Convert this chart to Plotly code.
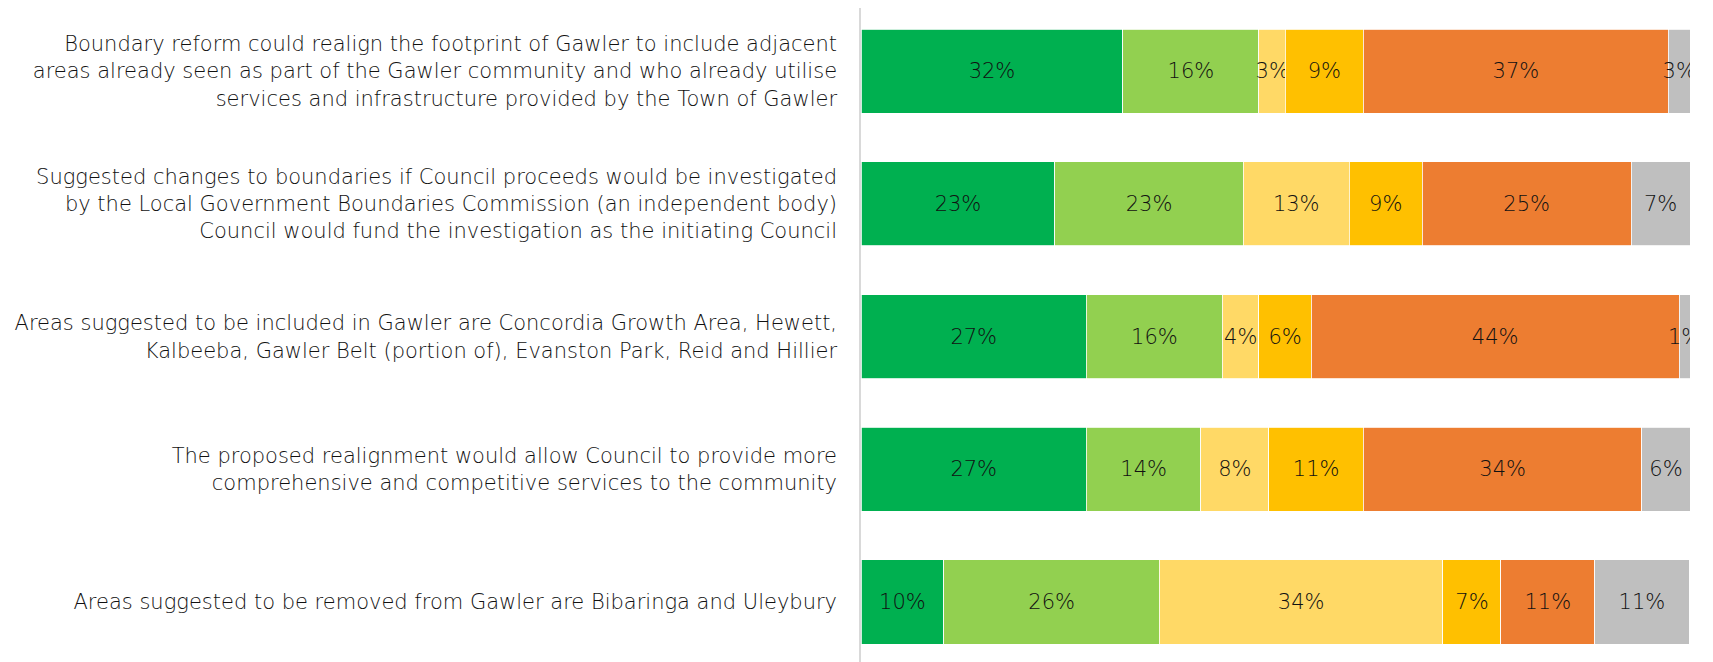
import plotly.graph_objects as go

# statements, top to bottom
STATEMENTS = [
    "Boundary reform could realign the footprint of Gawler to include adjacent<br>"
    "areas already seen as part of the Gawler community and who already utilise<br>"
    "services and infrastructure provided by the Town of Gawler",
    "Suggested changes to boundaries if Council proceeds would be investigated<br>"
    "by the Local Government Boundaries Commission (an independent body)<br>"
    "Council would fund the investigation as the initiating Council",
    "Areas suggested to be included in Gawler are Concordia Growth Area, Hewett,<br>"
    "Kalbeeba, Gawler Belt (portion of), Evanston Park, Reid and Hillier",
    "The proposed realignment would allow Council to provide more<br>"
    "comprehensive and competitive services to the community",
    "Areas suggested to be removed from Gawler are Bibaringa and Uleybury",
]

# response shares (%) per statement
RESP_1 = [31.6, 23.4, 27.2, 27.2, 10.0]
RESP_2 = [16.4, 22.7, 16.4, 13.8, 26.0]
RESP_3 = [3.2, 12.8, 4.4, 8.2, 34.2]
RESP_4 = [9.4, 8.8, 6.3, 11.4, 7.0]
RESP_5 = [36.8, 25.2, 44.4, 33.6, 11.3]
RESP_6 = [2.6, 7.1, 1.3, 5.8, 11.4]

SERIES = [RESP_1, RESP_2, RESP_3, RESP_4, RESP_5, RESP_6]
COLORS = ["#00B050", "#92D050", "#FFD966", "#FFC000", "#ED7D31", "#BFBFBF"]

FONT = "DejaVu Sans"
WEIGHT = 200
TXT = "#111111"

fig = go.Figure()
for vals, col in zip(SERIES, COLORS):
    fig.add_trace(go.Bar(
        x=vals,
        y=STATEMENTS,
        orientation="h",
        marker=dict(color=col, line=dict(color="white", width=0.8)),
        texttemplate="%{x:.0f}%",
        textposition="inside",
        insidetextanchor="middle",
        textangle=0,
        constraintext="none",
        textfont=dict(family=FONT, size=21, color=TXT, weight=WEIGHT),
        hoverinfo="skip",
    ))

# page body adds an 8px margin, so the figure is sized to end at the window edge
fig.update_layout(
    barmode="stack",
    width=1705,
    height=654,
    margin=dict(l=853, r=23, t=0, b=0),
    paper_bgcolor="white",
    plot_bgcolor="white",
    showlegend=False,
    bargap=0.367,
    font=dict(family=FONT, size=21, color=TXT, weight=WEIGHT),
)
fig.update_xaxes(range=[0, 100], visible=False, fixedrange=True)
fig.update_yaxes(
    categoryorder="array",
    categoryarray=STATEMENTS,
    range=[4.452, -0.475],
    showline=True,
    linecolor="#D9D9D9",
    linewidth=1.5,
    ticks="",
    ticklabelstandoff=18,
    showgrid=False,
    tickfont=dict(family=FONT, size=21, color=TXT, weight=WEIGHT),
)

fig.write_html("out.html")
